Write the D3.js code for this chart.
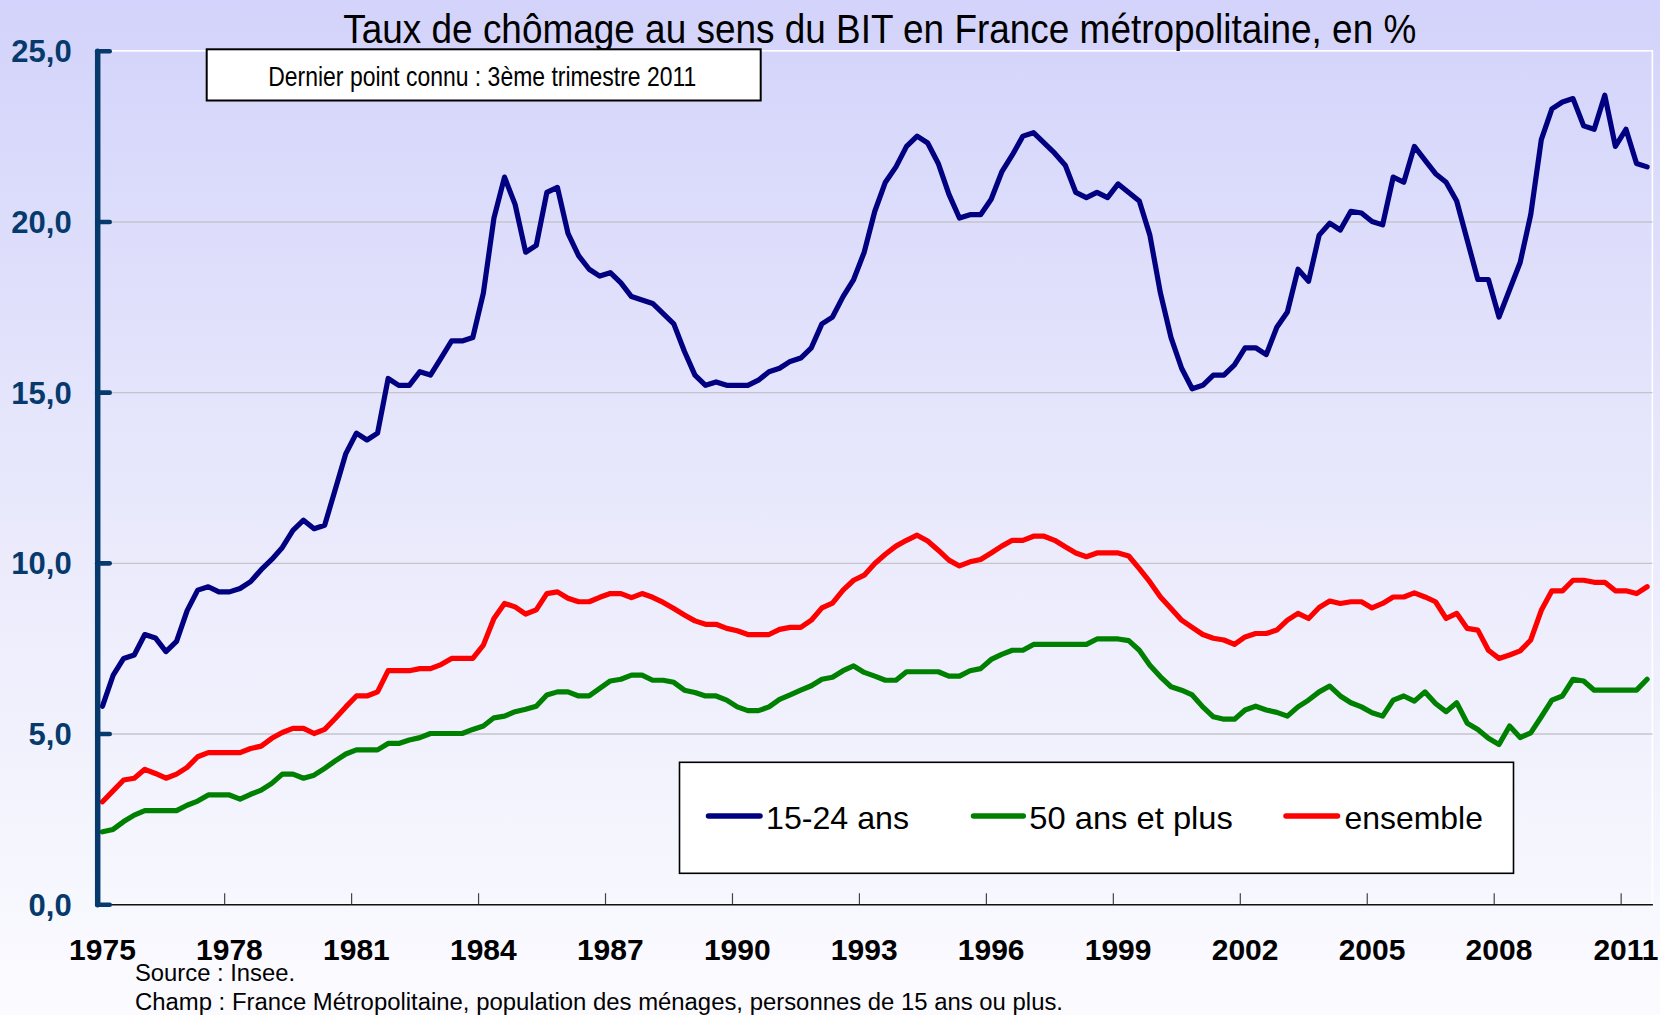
<!DOCTYPE html>
<html><head><meta charset="utf-8">
<script src="https://cdn.jsdelivr.net/npm/d3@7"></script>
<style>html,body{margin:0;padding:0;background:#fff;overflow:hidden}</style>
</head><body>
<svg id="chart" width="1660" height="1015"></svg>
<script>
// ---------- data ----------
const years = [1975,1976,1977,1978,1979,1980,1981,1982,1983,1984,1985,1986,1987,1988,1989,1990,1991,1992,1993,1994,1995,1996,1997,1998,1999,2000,2001,2002,2003,2004,2005,2006,2007,2008,2009,2010,2011];
const quarters = years.flatMap(y => ["T1","T2","T3","T4"].map(q => y + q)).slice(0, 147); // 1975T1 .. 2011T3
const tickYears = [1975,1978,1981,1984,1987,1990,1993,1996,1999,2002,2005,2008,2011];
const yTicks = [0,5,10,15,20,25];

const jeunes = [ // 15-24 ans
 5.8,6.7,7.2,7.3, 7.9,7.8,7.4,7.7, 8.6,9.2,9.3,9.15, 9.15,9.25,9.45,9.8,
 10.1,10.45,10.95,11.25, 11.0,11.1,12.15,13.2, 13.8,13.6,13.8,15.4, 15.2,15.2,15.6,15.5,
 16.0,16.5,16.5,16.6, 17.9,20.1,21.3,20.5, 19.1,19.3,20.85,21.0, 19.65,19.0,18.6,18.4,
 18.5,18.2,17.8,17.7, 17.6,17.3,17.0,16.2, 15.5,15.2,15.3,15.2, 15.2,15.2,15.35,15.6,
 15.7,15.9,16.0,16.3, 17.0,17.2,17.8,18.3, 19.1,20.3,21.15,21.6, 22.2,22.5,22.3,21.7,
 20.8,20.1,20.2,20.2, 20.65,21.45,21.95,22.5, 22.6,22.3,22.0,21.65, 20.85,20.7,20.85,20.7,
 21.1,20.85,20.6,19.6, 17.9,16.6,15.7,15.1, 15.2,15.5,15.5,15.8, 16.3,16.3,16.1,16.9,
 17.35,18.6,18.25,19.6, 19.95,19.75,20.3,20.25, 20.0,19.9,21.3,21.15, 22.2,21.8,21.4,21.15,
 20.6,19.45,18.3,18.3, 17.2,18.0,18.8,20.2, 22.4,23.3,23.5,23.6, 22.8,22.7,23.7,22.2,
 22.7,21.7,21.6];

const seniors = [ // 50 ans et plus
 2.12,2.19,2.42,2.61, 2.74,2.74,2.74,2.74, 2.9,3.02,3.2,3.2, 3.2,3.08,3.22,3.34,
 3.54,3.81,3.81,3.69, 3.78,3.98,4.2,4.4, 4.52,4.52,4.52,4.71, 4.71,4.81,4.88,5.0,
 5.0,5.0,5.0,5.12, 5.22,5.46,5.51,5.64, 5.71,5.8,6.13,6.22, 6.22,6.1,6.1,6.32,
 6.54,6.59,6.71,6.71, 6.56,6.56,6.5,6.27, 6.2,6.1,6.1,5.98, 5.78,5.67,5.67,5.78,
 6.0,6.13,6.27,6.4, 6.59,6.65,6.84,6.98, 6.79,6.68,6.56,6.56, 6.81,6.81,6.81,6.81,
 6.68,6.68,6.84,6.9, 7.17,7.32,7.44,7.44, 7.61,7.61,7.61,7.61, 7.61,7.61,7.77,7.77,
 7.77,7.72,7.44,7.0, 6.66,6.37,6.27,6.13, 5.78,5.49,5.42,5.42, 5.69,5.8,5.69,5.62,
 5.51,5.78,5.98,6.22, 6.39,6.1,5.9,5.78, 5.61,5.51,5.98,6.1, 5.95,6.22,5.88,5.64,
 5.9,5.3,5.12,4.86, 4.68,5.22,4.88,5.02, 5.49,5.98,6.1,6.59, 6.54,6.27,6.27,6.27,
 6.27,6.27,6.59];

const ensemble = [
 3.0,3.32,3.64,3.69, 3.95,3.83,3.69,3.81, 4.01,4.32,4.44,4.44, 4.44,4.44,4.56,4.63,
 4.86,5.03,5.15,5.15, 5.0,5.12,5.44,5.78, 6.1,6.1,6.22,6.84, 6.84,6.84,6.9,6.9,
 7.02,7.2,7.2,7.2, 7.59,8.37,8.81,8.71, 8.5,8.62,9.1,9.15, 8.96,8.86,8.86,8.99,
 9.1,9.1,8.98,9.1, 8.99,8.84,8.66,8.47, 8.3,8.2,8.2,8.08, 8.01,7.9,7.9,7.9,
 8.05,8.11,8.11,8.32, 8.68,8.82,9.2,9.49, 9.64,9.98,10.25,10.49, 10.66,10.81,10.64,10.37,
 10.08,9.91,10.03,10.1, 10.29,10.49,10.66,10.66, 10.78,10.78,10.66,10.47, 10.29,10.18,10.29,10.29,
 10.29,10.2,9.83,9.44, 9.0,8.66,8.32,8.11, 7.9,7.79,7.74,7.61, 7.83,7.93,7.93,8.03,
 8.32,8.52,8.37,8.69, 8.88,8.81,8.86,8.86, 8.68,8.81,9.0,9.0, 9.12,9.0,8.86,8.37,
 8.52,8.08,8.03,7.44, 7.2,7.3,7.42,7.74, 8.61,9.18,9.18,9.49, 9.49,9.43,9.43,9.18,
 9.18,9.1,9.3];

const seriesNames = ["15-24 ans", "50 ans et plus", "ensemble"];
const seriesColors = ["#000080", "#008000", "#ff0000"];
const seriesData = [jeunes, seniors, ensemble];

const titleText = "Taux de chômage au sens du BIT en France métropolitaine, en %";
const noteText = "Dernier point connu : 3ème trimestre 2011";
const sourceText = "Source : Insee.";
const champText = "Champ : France Métropolitaine, population des ménages, personnes de 15 ans ou plus.";

// ---------- layout ----------
const W = 1660, H = 1015;
const L = 97.2, R = 1652.4, T = 50.8, B = 904.2;
const axisColor = "#063a6c";
const narrow = "'Liberation Sans Narrow','Arial Narrow','Nimbus Sans Narrow',Arial,'Liberation Sans',sans-serif";
const sans = "Arial,'Liberation Sans',Helvetica,sans-serif";

const svg = d3.select("#chart");
const defs = svg.append("defs");
const grad = defs.append("linearGradient").attr("id","bg").attr("x1",0).attr("y1",0).attr("x2",0).attr("y2",1);
grad.append("stop").attr("offset","0%").attr("stop-color","#d3d3fb");
grad.append("stop").attr("offset","55%").attr("stop-color","#ebebfc");
grad.append("stop").attr("offset","100%").attr("stop-color","#fbfbff");
svg.append("rect").attr("width",W).attr("height",H).attr("fill","url(#bg)");

const x = d3.scaleBand().domain(quarters).range([L, R]).paddingInner(0).paddingOuter(0);
const xl = d3.scaleLinear().domain([0, quarters.length]).range([L, R]);
const y = d3.scaleLinear().domain([0, 25]).range([B, T]);

// plot border (white)
svg.append("rect").attr("x",L).attr("y",T).attr("width",R-L).attr("height",B-T)
  .attr("fill","none").attr("stroke","#ffffff").attr("stroke-width",1.6);

// gridlines
const grid = svg.append("g").attr("transform",`translate(${L},0)`)
  .call(d3.axisLeft(y).tickValues(yTicks.filter(v => v > 0 && v < 25)).tickSize(-(R-L)).tickFormat(""));
grid.select(".domain").remove();
grid.selectAll(".tick line").attr("stroke","#c4c4cc").attr("stroke-width",1.4);

// x axis line + boundary ticks
const xTicksG = svg.append("g").attr("transform",`translate(0,${B})`)
  .call(d3.axisBottom(xl).tickValues(d3.range(12, quarters.length, 12)).tickSize(-11).tickSizeOuter(0).tickFormat(""));
xTicksG.select(".domain").attr("stroke","#111").attr("stroke-width",1.6);
xTicksG.selectAll(".tick line").attr("stroke","#444").attr("stroke-width",1.2);

// x labels (years at Q1)
const xLab = svg.append("g").attr("transform",`translate(0,${B})`)
  .call(d3.axisBottom(x).tickValues(tickYears.map(yr => yr + "T1")).tickSize(0).tickPadding(34.7)
    .tickFormat(d => d.slice(0,4)));
xLab.select(".domain").remove();
xLab.selectAll("text").attr("font-family",sans).attr("font-weight","bold").attr("font-size",30).attr("fill","#000");

// data lines
const line = d3.line().x((d,i) => x(quarters[i]) + x.bandwidth()/2).y(d => y(d)).curve(d3.curveLinear);
svg.append("g").selectAll("path").data(seriesData).join("path")
  .attr("d", d => line(d)).attr("fill","none")
  .attr("stroke",(d,i) => seriesColors[i]).attr("stroke-width",5.2)
  .attr("stroke-linejoin","round").attr("stroke-linecap","round");

// y axis
const yAx = svg.append("g").attr("transform",`translate(${L},0)`)
  .call(d3.axisLeft(y).tickValues(yTicks).tickSize(-12.5).tickSizeOuter(0).tickPadding(25.5)
    .tickFormat(d => d3.format(".1f")(d).replace(".", ",")));
yAx.select(".domain").attr("stroke",axisColor).attr("stroke-width",5.5).attr("stroke-linecap","round");
yAx.selectAll(".tick line").attr("stroke",axisColor).attr("stroke-width",4.6).attr("stroke-linecap","round");
yAx.selectAll(".tick text").attr("font-family",sans).attr("font-weight","bold").attr("font-size",31)
  .attr("fill",axisColor).attr("dy","0.35em");

// title
svg.append("text").attr("x",343.3).attr("y",42.7).text(titleText)
  .attr("font-family",narrow).attr("font-size",41).attr("fill","#000")
  .attr("textLength",1073).attr("lengthAdjust","spacingAndGlyphs");

// note box
svg.append("rect").attr("x",206.7).attr("y",49.3).attr("width",554).attr("height",51.2)
  .attr("fill","#ffffff").attr("stroke","#000").attr("stroke-width",2);
svg.append("text").attr("x",268.3).attr("y",86).text(noteText)
  .attr("font-family",narrow).attr("font-size",28).attr("fill","#000")
  .attr("textLength",428).attr("lengthAdjust","spacingAndGlyphs");

// legend
const leg = svg.append("g");
leg.append("rect").attr("x",679.5).attr("y",762.3).attr("width",834).attr("height",111)
  .attr("fill","#ffffff").attr("stroke","#000").attr("stroke-width",1.6);
const legItems = [
  {x1:708.5, x2:760, tx:766, tw:143},
  {x1:973.5, x2:1023.3, tx:1029.3, tw:203.6},
  {x1:1286, x2:1337.5, tx:1344.6, tw:138.3}
];
legItems.forEach((it,i) => {
  leg.append("line").attr("x1",it.x1).attr("x2",it.x2).attr("y1",816).attr("y2",816)
    .attr("stroke",seriesColors[i]).attr("stroke-width",5.5).attr("stroke-linecap","round");
  leg.append("text").attr("x",it.tx).attr("y",829.3).text(seriesNames[i])
    .attr("font-family",sans).attr("font-size",32).attr("fill","#000")
    .attr("textLength",it.tw).attr("lengthAdjust","spacingAndGlyphs");
});

// footer
svg.append("text").attr("x",135).attr("y",980.8).text(sourceText)
  .attr("font-family",sans).attr("font-size",23).attr("fill","#000")
  .attr("textLength",160).attr("lengthAdjust","spacingAndGlyphs");
svg.append("text").attr("x",135).attr("y",1009.5).text(champText)
  .attr("font-family",sans).attr("font-size",23).attr("fill","#000")
  .attr("textLength",928).attr("lengthAdjust","spacingAndGlyphs");
</script>
</body></html>
